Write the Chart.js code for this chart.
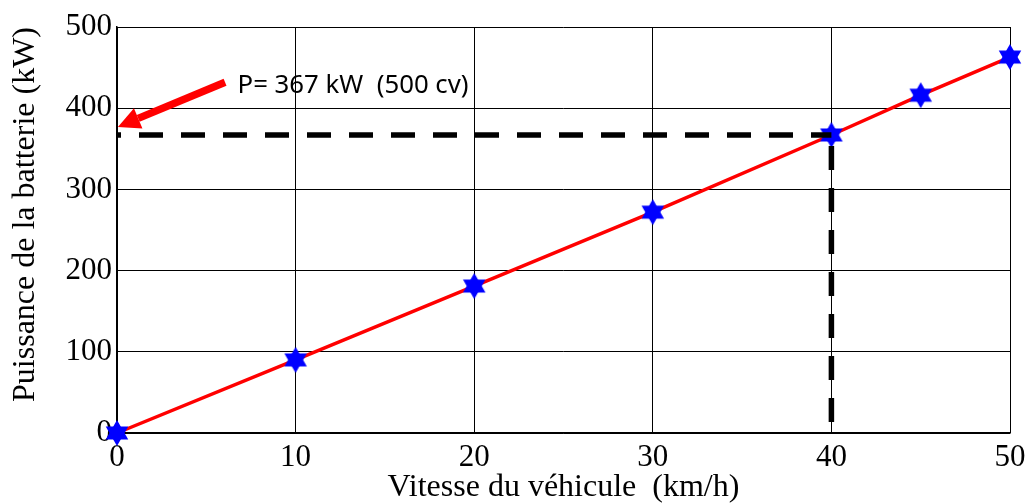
<!DOCTYPE html>
<html>
<head>
<meta charset="utf-8">
<script src="https://cdn.jsdelivr.net/npm/chart.js@4/dist/chart.umd.min.js"></script>
<style>
  html, body { margin: 0; padding: 0; background: #fff; }
  #myChart { display: block; }
</style>
</head>
<body>
<canvas id="myChart" width="1027" height="503" style="width:1027px;height:503px"></canvas>
<script>
// data
const speeds = [0, 10, 20, 30, 40, 45, 50];
const power = [0, 90, 181, 272, 367, 416, 463];
const xTicks = [0, 10, 20, 30, 40, 50];
const yTicks = [0, 100, 200, 300, 400, 500];
const markSpeed = 40;
const markPower = 367;
const noteText = 'P= 367 kW  (500 cv)';
// arrow / note anchors, in data units
const noteAt = [6.75, 419];
const arrowFrom = [6.05, 432];
const arrowTo = [0.05, 377];

// six-pointed star used as point marker
function makeStar(r) {
  const c = document.createElement('canvas');
  const s = Math.ceil(r * 2) + 2;
  c.width = s; c.height = s;
  const g = c.getContext('2d');
  g.fillStyle = '#0000ff';
  const cx = s / 2, cy = s / 2;
  [ -Math.PI / 2, Math.PI / 2 ].forEach(a0 => {
    g.beginPath();
    for (let k = 0; k < 3; k++) {
      const a = a0 + k * 2 * Math.PI / 3;
      const px = cx + r * Math.cos(a), py = cy + r * Math.sin(a);
      k ? g.lineTo(px, py) : g.moveTo(px, py);
    }
    g.closePath();
    g.fill();
  });
  return c;
}
const star = makeStar(13);

const notePlugin = {
  id: 'note',
  afterDatasetsDraw(chart) {
    const x = chart.scales.x, y = chart.scales.y, ctx = chart.ctx;
    const x1 = x.getPixelForValue(arrowFrom[0]), y1 = y.getPixelForValue(arrowFrom[1]);
    const x2 = x.getPixelForValue(arrowTo[0]), y2 = y.getPixelForValue(arrowTo[1]);
    const ang = Math.atan2(y2 - y1, x2 - x1);
    const headLen = 22, headW = 11;
    const bx = x2 - headLen * Math.cos(ang), by = y2 - headLen * Math.sin(ang);
    ctx.save();
    ctx.strokeStyle = '#ff0000';
    ctx.fillStyle = '#ff0000';
    ctx.lineWidth = 7.5;
    ctx.beginPath();
    ctx.moveTo(x1, y1);
    ctx.lineTo(bx, by);
    ctx.stroke();
    ctx.beginPath();
    ctx.moveTo(x2, y2);
    ctx.lineTo(bx + headW * Math.sin(ang), by - headW * Math.cos(ang));
    ctx.lineTo(bx - headW * Math.sin(ang), by + headW * Math.cos(ang));
    ctx.closePath();
    ctx.fill();
    ctx.fillStyle = '#000';
    ctx.font = '26px "Noto Sans"';
    ctx.textBaseline = 'alphabetic';
    ctx.fillText(noteText, x.getPixelForValue(noteAt[0]), y.getPixelForValue(noteAt[1]), 231);
    ctx.restore();
  }
};

const serif = { family: '"Liberation Serif", "Times New Roman", serif', size: 31 };

new Chart(document.getElementById('myChart'), {
  type: 'scatter',
  data: {
    datasets: [{
      data: speeds.map((v, i) => ({ x: v, y: power[i] })),
      showLine: true,
      borderColor: '#ff0000',
      borderWidth: 3.5,
      pointStyle: star,
      pointRadius: 12,
      clip: false,
      order: 2
    }, {
      data: [{ x: 0, y: markPower }, { x: markSpeed, y: markPower }],
      showLine: true,
      borderColor: '#000',
      borderWidth: 5.5,
      borderDash: [24, 18],
      borderDashOffset: 20,
      borderCapStyle: 'butt',
      pointRadius: 0,
      order: 1
    }, {
      data: [{ x: markSpeed, y: markPower }, { x: markSpeed, y: 0 }],
      showLine: true,
      borderColor: '#000',
      borderWidth: 5.5,
      borderDash: [24, 18],
      borderDashOffset: 31,
      borderCapStyle: 'butt',
      pointRadius: 0,
      order: 1
    }]
  },
  options: {
    responsive: false,
    animation: false,
    layout: { padding: { top: 27, right: 17, left: 0, bottom: 0 } },
    plugins: { legend: { display: false }, tooltip: { enabled: false } },
    scales: {
      x: {
        type: 'linear', min: 0, max: 50,
        afterBuildTicks: s => { s.ticks = xTicks.map(v => ({ value: v })); },
        afterFit: s => { s.height = 70; s.paddingLeft = 0; s.paddingRight = 0; },
        grid: { color: '#000', lineWidth: 1, drawTicks: false },
        border: { color: '#000', width: 1.5 },
        ticks: { color: '#000', font: serif, padding: 6, maxRotation: 0 },
        title: { display: true, text: 'Vitesse du véhicule  (km/h)', color: '#000',
                 font: { family: serif.family, size: 32 }, padding: { top: 0, bottom: -4 } }
      },
      y: {
        type: 'linear', min: 0, max: 500,
        afterBuildTicks: s => { s.ticks = yTicks.map(v => ({ value: v })); },
        afterFit: s => { s.width = 117; s.paddingTop = 0; s.paddingBottom = 0; },
        grid: { color: '#000', lineWidth: 1, drawTicks: false },
        border: { color: '#000', width: 1.5 },
        ticks: { color: '#000', font: serif, padding: 5 },
        title: { display: true, text: 'Puissance de la batterie (kW)', color: '#000', align: 'end',
                 font: { family: serif.family, size: 32 }, padding: { top: 6, bottom: 0 } }
      }
    }
  },
  plugins: [notePlugin]
});
</script>
</body>
</html>
